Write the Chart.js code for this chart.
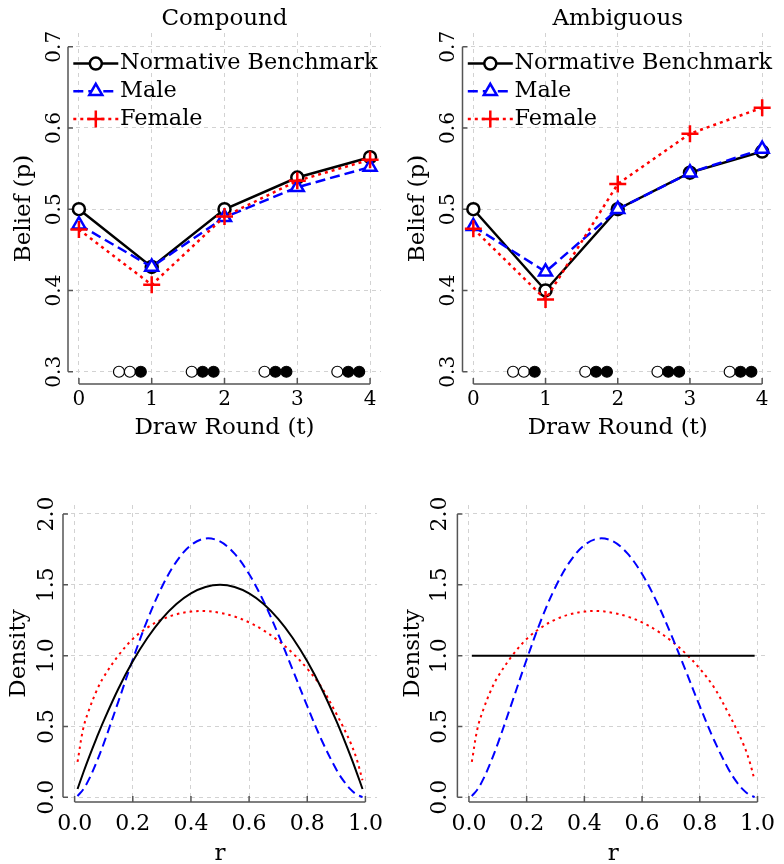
<!DOCTYPE html>
<html>
<head>
<meta charset="utf-8">
<script src="https://cdn.jsdelivr.net/npm/chart.js@4.4.1/dist/chart.umd.min.js"></script>
<style>
  html, body { margin: 0; padding: 0; background: #fff; }
  #wrap { position: relative; width: 784px; height: 864px; }
  canvas { position: absolute; }
</style>
</head>
<body>
<div id="wrap">
  <canvas id="compound" width="392" height="440" style="left:0;top:0"></canvas>
  <canvas id="ambiguous" width="392" height="440" style="left:392px;top:0"></canvas>
  <canvas id="compoundDensity" width="392" height="424" style="left:0;top:440px"></canvas>
  <canvas id="ambiguousDensity" width="392" height="424" style="left:392px;top:440px"></canvas>
</div>
<script>
// top row: beliefs per draw round
const rounds = [0, 1, 2, 3, 4];
const compoundNormative = [0.5, 0.429, 0.5, 0.539, 0.564];
const compoundMale = [0.481, 0.429, 0.49, 0.527, 0.552];
const compoundFemale = [0.475, 0.407, 0.491, 0.535, 0.561];
const ambiguousNormative = [0.5, 0.4, 0.5, 0.545, 0.571];
const ambiguousMale = [0.479, 0.423, 0.5, 0.545, 0.574];
const ambiguousFemale = [0.476, 0.389, 0.531, 0.593, 0.625];

// urn balls drawn on the 0.3 line (1 = black ball)
const urnX = [0.55, 0.70, 0.85, 1.55, 1.70, 1.85, 2.55, 2.70, 2.85, 3.55, 3.70, 3.85];
const urnFilled = [0, 0, 1, 0, 1, 1, 0, 1, 1, 0, 1, 1];

const beliefTicks = [0.3, 0.4, 0.5, 0.6, 0.7];
const densityTicks = [0, 0.5, 1, 1.5, 2];
const rTicks = [0, 0.2, 0.4, 0.6, 0.8, 1];

// bottom row: prior densities over r
const r = [0.01, 0.03, 0.05, 0.075, 0.1, 0.15, 0.2, 0.25, 0.3, 0.35, 0.4, 0.45, 0.5,
  0.55, 0.6, 0.65, 0.7, 0.75, 0.8, 0.85, 0.9, 0.925, 0.95, 0.97, 0.99];
const compoundPrior = [0.059, 0.175, 0.285, 0.416, 0.54, 0.765, 0.96, 1.125, 1.26, 1.365, 1.44, 1.485, 1.5,
  1.485, 1.44, 1.365, 1.26, 1.125, 0.96, 0.765, 0.54, 0.416, 0.285, 0.175, 0.059];
const malePrior = [0.009, 0.057, 0.13, 0.246, 0.379, 0.674, 0.973, 1.251, 1.485, 1.664, 1.78, 1.827, 1.806,
  1.72, 1.576, 1.383, 1.152, 0.9, 0.643, 0.401, 0.196, 0.116, 0.054, 0.02, 0.002];
const femalePrior = [0.25, 0.49, 0.62, 0.75, 0.85, 1.0, 1.118, 1.198, 1.255, 1.292, 1.311, 1.315, 1.302,
  1.276, 1.235, 1.178, 1.106, 1.017, 0.908, 0.774, 0.59, 0.49, 0.38, 0.27, 0.12];
const uniformR = [0.01, 0.99];
const uniformPrior = [1, 1];

Chart.defaults.font.family = "'DejaVu Serif', serif";
Chart.defaults.color = '#000';
Chart.defaults.animation = false;

const gridColor = '#d2d2d2';

function pts(xs, ys) {
  return xs.map((x, i) => ({ x: x, y: ys[i] }));
}

function drawMarker(ctx, style, rad, x, y) {
  ctx.beginPath();
  if (style === 'circle') {
    ctx.arc(x, y, rad, 0, Math.PI * 2);
    ctx.fill();
    ctx.stroke();
  } else if (style === 'triangle') {
    for (let k = 0; k < 3; k++) {
      const a = k * 2 * Math.PI / 3;
      const px = x + Math.sin(a) * rad, py = y - Math.cos(a) * rad;
      if (k === 0) ctx.moveTo(px, py); else ctx.lineTo(px, py);
    }
    ctx.closePath();
    ctx.fill();
    ctx.stroke();
  } else {
    ctx.moveTo(x - rad, y); ctx.lineTo(x + rad, y);
    ctx.moveTo(x, y - rad); ctx.lineTo(x, y + rad);
    ctx.stroke();
  }
}

// bounded spines with inward ticks
const spinePlugin = {
  id: 'spines',
  beforeDatasetsDraw(chart, args, opts) {
    const { ctx, chartArea, scales } = chart;
    const xs = opts.xTicks, ys = opts.yTicks;
    const left = chartArea.left, bottom = chartArea.bottom;
    ctx.save();
    ctx.strokeStyle = '#555';
    ctx.lineWidth = 1.5;
    ctx.setLineDash([]);
    ctx.beginPath();
    ctx.moveTo(left, scales.y.getPixelForValue(ys[0]));
    ctx.lineTo(left, scales.y.getPixelForValue(ys[ys.length - 1]));
    ys.forEach(v => {
      const p = scales.y.getPixelForValue(v);
      ctx.moveTo(left, p); ctx.lineTo(left + 5, p);
    });
    ctx.moveTo(scales.x.getPixelForValue(xs[0]), bottom);
    ctx.lineTo(scales.x.getPixelForValue(xs[xs.length - 1]), bottom);
    xs.forEach(v => {
      const p = scales.x.getPixelForValue(v);
      ctx.moveTo(p, bottom); ctx.lineTo(p, bottom - 6);
    });
    ctx.stroke();
    ctx.restore();
  }
};

// line + marker samples in the legend
const legendMarkers = {
  id: 'legendMarkers',
  afterDraw(chart) {
    const legend = chart.legend;
    if (!legend || !legend.legendHitBoxes || !chart.options.plugins.legend.display) return;
    const ctx = chart.ctx;
    legend.legendItems.forEach((item, i) => {
      const box = legend.legendHitBoxes[i];
      const ds = chart.data.datasets[item.datasetIndex];
      const y = box.top + box.height / 2;
      const x0 = box.left, x1 = box.left + 45;
      ctx.save();
      ctx.strokeStyle = ds.borderColor;
      ctx.lineWidth = ds.borderWidth;
      ctx.setLineDash(ds.borderDash || []);
      ctx.beginPath(); ctx.moveTo(x0, y); ctx.lineTo(x1, y); ctx.stroke();
      ctx.setLineDash([]);
      ctx.fillStyle = '#fff';
      ctx.lineWidth = ds.pointBorderWidth;
      drawMarker(ctx, ds.pointStyle, ds.pointRadius, (x0 + x1) / 2, y);
      ctx.restore();
    });
  }
};

function beliefChart(id, title, normative, male, female, layout) {
  const datasets = [
    { label: 'Normative Benchmark', data: pts(rounds, normative), borderColor: '#000', borderWidth: 2.5,
      pointStyle: 'circle', pointRadius: 6, pointBorderWidth: 2.5, pointBackgroundColor: '#fff', order: 3 },
    { label: 'Male', data: pts(rounds, male), borderColor: '#0000ff', borderWidth: 2.5, borderDash: [10, 5],
      pointStyle: 'triangle', pointRadius: 7.5, pointBorderWidth: 2.5, pointBackgroundColor: '#fff', order: 2 },
    { label: 'Female', data: pts(rounds, female), borderColor: '#ff0000', borderWidth: 2.5, borderDash: [3, 4],
      pointStyle: 'cross', pointRadius: 8.5, pointBorderWidth: 2.5, order: 1 },
    { label: 'urn', data: urnX.map(x => ({ x: x, y: 0.3 })), showLine: false, pointStyle: 'circle',
      pointRadius: 5.5, pointBorderWidth: 1.2, pointBorderColor: '#000',
      pointBackgroundColor: urnFilled.map(f => f ? '#000' : '#fff'), order: 5 }
  ];
  datasets.forEach(d => { d.clip = false; d.tension = 0; d.pointBorderColor = d.pointBorderColor || d.borderColor; });

  return new Chart(document.getElementById(id), {
    type: 'line',
    data: { datasets: datasets },
    plugins: [spinePlugin, legendMarkers],
    options: {
      responsive: false,
      events: [],
      layout: { padding: { left: 0, right: layout.padRight, top: 0, bottom: 0 } },
      scales: {
        x: {
          type: 'linear', min: -0.15, max: 4.15,
          afterBuildTicks: s => { s.ticks = rounds.map(v => ({ value: v })); },
          afterFit: s => { s.height = 56; },
          grid: { color: gridColor, lineWidth: 1, drawTicks: false },
          border: { display: false, dash: [4, 4] },
          ticks: { font: { size: 20, lineHeight: 1.2 }, padding: 4, autoSkip: false, maxRotation: 0,
            callback: v => String(v) },
          title: { display: true, text: 'Draw Round (t)', font: { size: 23, lineHeight: 1 },
            padding: { top: 0, bottom: 0.5 } }
        },
        y: {
          type: 'linear', min: 0.2849, max: 0.7169,
          afterBuildTicks: s => { s.ticks = beliefTicks.map(v => ({ value: v })); },
          afterFit: s => { s.width = layout.yWidth; },
          grid: { color: gridColor, lineWidth: 1, drawTicks: false },
          border: { display: false, dash: [4, 4] },
          ticks: { font: { size: 20, lineHeight: 1.2 }, padding: layout.yTickPad, autoSkip: false,
            minRotation: 90, maxRotation: 90, crossAlign: 'center', callback: v => v.toFixed(1) },
          title: { display: true, text: 'Belief (p)', font: { size: 23, lineHeight: 1 },
            padding: { top: layout.yTitlePad, bottom: 0 } }
        }
      },
      plugins: {
        title: { display: true, text: title, fullSize: false, font: { size: 23, weight: 'normal', lineHeight: 1.2 },
          padding: { top: 5.2, bottom: 0.2 }, color: '#000' },
        legend: {
          display: true, position: 'chartArea', align: 'start',
          // vertical legend boxes restart at the canvas top, so the empty title pushes rows down
          title: { display: true, text: '', font: { size: 47.1, lineHeight: 1 }, padding: 0 },
          labels: {
            font: { size: 22.4 }, color: '#000', boxWidth: 35.5, boxHeight: 0, padding: 5.3,
            filter: item => item.datasetIndex < 3,
            sort: (a, b) => a.datasetIndex - b.datasetIndex,
            generateLabels: chart => Chart.defaults.plugins.legend.labels.generateLabels(chart).map(l =>
              Object.assign(l, { fillStyle: 'rgba(0,0,0,0)', strokeStyle: 'rgba(0,0,0,0)', lineWidth: 0 }))
          }
        },
        tooltip: { enabled: false },
        spines: { xTicks: rounds, yTicks: beliefTicks }
      }
    }
  });
}

function densityChart(id, normR, normVals, layout) {
  const datasets = [
    { label: 'Normative Benchmark', data: pts(normR, normVals), borderColor: '#000', borderWidth: 2 },
    { label: 'Male', data: pts(r, malePrior), borderColor: '#0000ff', borderWidth: 2, borderDash: [9, 5] },
    { label: 'Female', data: pts(r, femalePrior), borderColor: '#ff0000', borderWidth: 2, borderDash: [2.5, 4] }
  ];
  datasets.forEach(d => { d.pointRadius = 0; d.tension = 0.35; d.clip = false; });

  return new Chart(document.getElementById(id), {
    type: 'line',
    data: { datasets: datasets },
    plugins: [spinePlugin],
    options: {
      responsive: false,
      events: [],
      layout: { padding: { left: 0, right: layout.padRight, top: 65, bottom: 0 } },
      scales: {
        x: {
          type: 'linear', min: -0.04, max: 1.04,
          afterBuildTicks: s => { s.ticks = rTicks.map(v => ({ value: v })); },
          afterFit: s => { s.height = 62; },
          grid: { color: gridColor, lineWidth: 1, drawTicks: false },
          border: { display: false, dash: [4, 4] },
          ticks: { font: { size: 22, lineHeight: 1.2 }, padding: 8.8, autoSkip: false, maxRotation: 0,
            callback: v => v.toFixed(1) },
          title: { display: true, text: 'r', font: { size: 23, lineHeight: 0.9 }, padding: { top: 0, bottom: 0 } }
        },
        y: {
          type: 'linear', min: -0.033, max: 2.0635,
          afterBuildTicks: s => { s.ticks = densityTicks.map(v => ({ value: v })); },
          afterFit: s => { s.width = layout.yWidth; },
          grid: { color: gridColor, lineWidth: 1, drawTicks: false },
          border: { display: false, dash: [4, 4] },
          ticks: { font: { size: 22, lineHeight: 1.2 }, padding: layout.yTickPad, autoSkip: false,
            minRotation: 90, maxRotation: 90, crossAlign: 'center', callback: v => v.toFixed(1) },
          title: { display: true, text: 'Density', font: { size: 23, lineHeight: 1 },
            padding: { top: layout.yTitlePad, bottom: 0 } }
        }
      },
      plugins: {
        legend: { display: false },
        tooltip: { enabled: false },
        spines: { xTicks: rTicks, yTicks: densityTicks }
      }
    }
  });
}

beliefChart('compound', 'Compound', compoundNormative, compoundMale, compoundFemale,
  { yWidth: 68, padRight: 4.15, yTickPad: -3, yTitlePad: 12.5 });
beliefChart('ambiguous', 'Ambiguous', ambiguousNormative, ambiguousMale, ambiguousFemale,
  { yWidth: 70.5, padRight: 1.5, yTickPad: -2.4, yTitlePad: 14.2 });
densityChart('compoundDensity', r, compoundPrior,
  { yWidth: 63, padRight: 8, yTickPad: -1.9, yTitlePad: 7.5 });
densityChart('ambiguousDensity', uniformR, uniformPrior,
  { yWidth: 65.4, padRight: 5.1, yTickPad: -0.5, yTitlePad: 9.2 });
</script>
</body>
</html>
